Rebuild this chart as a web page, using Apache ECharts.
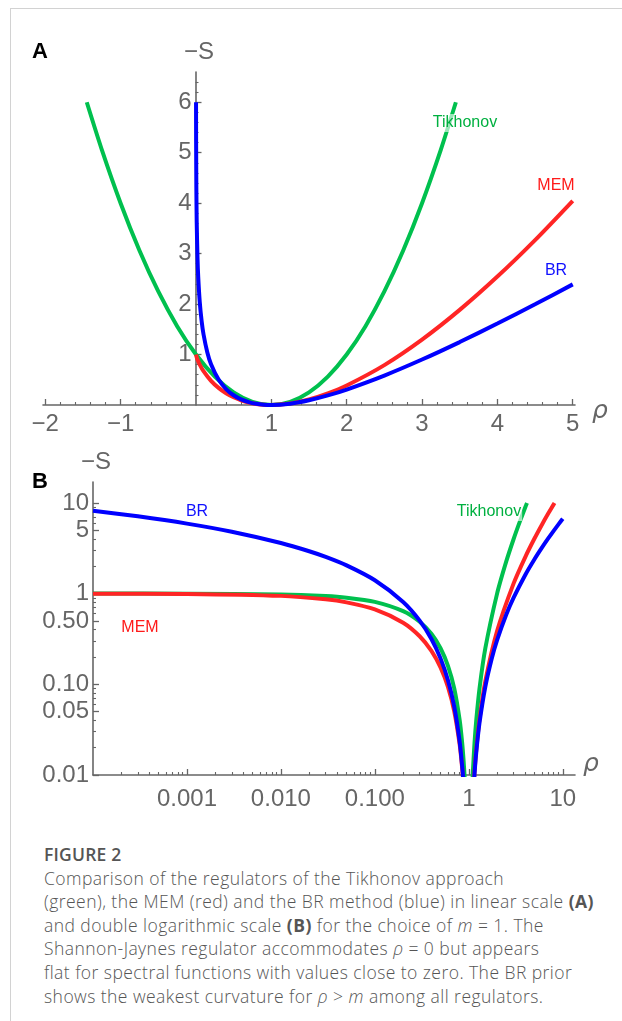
<!DOCTYPE html>
<html>
<head>
<meta charset="utf-8">
<script src="https://cdn.jsdelivr.net/npm/echarts@6/dist/echarts.min.js"></script>
<style>
html,body{margin:0;padding:0;background:#fff;}
#frame{position:absolute;left:10px;top:8px;width:612px;height:1013px;border-left:1px solid #d2d2d2;border-top:1px solid #d2d2d2;box-sizing:border-box;}
#chart{position:absolute;left:0;top:0;width:622px;height:830px;}
#caption{position:absolute;left:44px;top:843px;width:575px;font-family:'Open Sans',sans-serif;font-weight:300;color:#555;font-size:17.5px;letter-spacing:0.45px;line-height:23.6px;white-space:nowrap;}
#caption .fig{font-weight:600;font-size:17.5px;letter-spacing:0.2px;}
#caption b{font-weight:700;}
</style>
</head>
<body>
<div id="frame"></div>
<div id="chart"></div>
<div id="caption">
<div class="fig">FIGURE 2</div>
<div>Comparison of the regulators of the Tikhonov approach</div>
<div>(green), the MEM (red) and the BR method (blue) in linear scale <b>(A)</b></div>
<div>and double logarithmic scale <b>(B)</b> for the choice of <i>m</i> = 1. The</div>
<div>Shannon-Jaynes regulator accommodates <i>ρ</i> = 0 but appears</div>
<div>flat for spectral functions with values close to zero. The BR prior</div>
<div>shows the weakest curvature for <i>ρ</i> &gt; <i>m</i> among all regulators.</div>
</div>
<script>
// ---------- Panel A (linear scale): [rho, -S] ----------
const tikhonovLin = [[-1.449,6.0],[-1.25,5.0625],[-1.0,4.0],[-0.75,3.0625],[-0.5,2.25],[-0.25,1.5625],[0,1],[0.25,0.5625],[0.5,0.25],[0.75,0.0625],[1,0],[1.25,0.0625],[1.5,0.25],[1.75,0.5625],[2,1],[2.25,1.5625],[2.5,2.25],[2.75,3.0625],[3,4],[3.25,5.0625],[3.449,6.0]];
const memLin = [[0,1],[0.01,0.9439],[0.02,0.9018],[0.05,0.8002],[0.1,0.6697],[0.2,0.4781],[0.3,0.3388],[0.4,0.2335],[0.5,0.1534],[0.6,0.0935],[0.7,0.0503],[0.8,0.0215],[0.9,0.0052],[1,0],[1.25,0.0289],[1.5,0.1082],[1.75,0.2293],[2,0.3863],[2.5,0.7907],[3,1.2958],[3.5,1.8847],[4,2.5452],[4.5,3.2683],[5,4.0472]];
const brLin = [[0.00091,6.0],[0.002,5.2166],[0.005,4.3033],[0.01,3.6152],[0.02,2.932],[0.03,2.5366],[0.05,2.0457],[0.075,1.6653],[0.1,1.4026],[0.15,1.0471],[0.2,0.8094],[0.3,0.504],[0.4,0.3163],[0.5,0.1931],[0.6,0.1108],[0.7,0.0567],[0.8,0.0231],[0.9,0.0054],[1,0],[1.25,0.0269],[1.5,0.0945],[1.75,0.1904],[2,0.3069],[2.5,0.5837],[3,0.9014],[3.5,1.2472],[4,1.6137],[4.5,1.9959],[5,2.3906]];

// ---------- Panel B (double log scale): [rho, -S] ----------
const tikhonovLogL = [[0.0001,0.9998],[0.001,0.998],[0.01,0.9801],[0.03,0.9409],[0.05,0.9025],[0.1,0.81],[0.2,0.64],[0.3,0.49],[0.4,0.36],[0.5,0.25],[0.6,0.16],[0.7,0.09],[0.8,0.04],[0.85,0.0225],[0.88,0.0144],[0.9,0.01],[0.92,0.0064]];
const tikhonovLogR = [[1.08,0.0064],[1.1,0.01],[1.15,0.0225],[1.2,0.04],[1.3,0.09],[1.5,0.25],[2,1],[2.5,2.25],[3,4],[3.5,6.25],[4,9],[4.162,10.0]];
const memLogL = [[0.0001,0.999],[0.001,0.9921],[0.01,0.9439],[0.03,0.8648],[0.05,0.8002],[0.1,0.6697],[0.2,0.4781],[0.3,0.3388],[0.4,0.2335],[0.5,0.1534],[0.6,0.0935],[0.7,0.0503],[0.8,0.0215],[0.85,0.0119],[0.87,0.0088],[0.9,0.0052]];
const memLogR = [[1.1,0.0048],[1.15,0.0107],[1.2,0.0188],[1.3,0.0411],[1.5,0.1082],[2,0.3863],[3,1.2958],[4,2.5452],[5,4.0472],[6,5.7506],[7,7.6214],[8,9.6355],[8.17,10.0]];
const brLogL = [[0.0001,8.2104],[0.0003,7.112],[0.001,5.9088],[0.003,4.8121],[0.01,3.6152],[0.02,2.932],[0.03,2.5366],[0.05,2.0457],[0.1,1.4026],[0.2,0.8094],[0.3,0.504],[0.4,0.3163],[0.5,0.1931],[0.6,0.1108],[0.7,0.0567],[0.8,0.0231],[0.85,0.0125],[0.87,0.0093],[0.9,0.0054]];
const brLogR = [[1.1,0.0047],[1.15,0.0102],[1.2,0.0177],[1.3,0.0376],[1.5,0.0945],[1.75,0.1904],[2,0.3069],[2.5,0.5837],[3,0.9014],[4,1.6137],[5,2.3906],[6,3.2082],[7,4.0541],[8,4.9206],[9,5.8028],[10,6.6974]];

// ---------- Tick labels ----------
const xTicksA = [-2,-1,1,2,3,4,5];
const yTicksA = [1,2,3,4,5,6];
const xTicksB = [0.001,0.01,0.1,1,10];
const xTickLabelsB = ['0.001','0.010','0.100','1','10'];
const yTicksB = [0.01,0.05,0.1,0.5,1,5,10];
const yTickLabelsB = ['0.01','0.05','0.10','0.50','1','5','10'];

// minor tick positions
const xMinorA = []; for (let i = -10; i <= 25; i++) if (i % 5 !== 0) xMinorA.push(i / 5);
const yMinorA = []; for (let i = 1; i <= 32; i++) if (i % 5 !== 0) yMinorA.push(i / 5);
const xMinorB = []; for (let d = -4; d <= 1; d++) for (let k = 2; k <= 9; k++) xMinorB.push(k * Math.pow(10, d));
const yMinorB = []; for (let d = -2; d <= 1; d++) for (let k = 2; k <= 9; k++) if (k !== 5) yMinorB.push(k * Math.pow(10, d));

const C_TIK = '#00c04e', C_MEM = '#ff2525', C_BR = '#0000ff';
const AX = '#666666';
const TICKFONT = '"Liberation Sans",Arial,sans-serif';
const Y0_OFFSET = -152.5; // y axis of panel A sits at rho = 0

function labelOf(ticks, labels, v) {
  let best = 0, bd = Infinity;
  ticks.forEach((t, i) => { const d = Math.abs(Math.log10(t) - Math.log10(v)); if (d < bd) { bd = d; best = i; } });
  return labels[best];
}
const fmtA = v => v < 0 ? '\u2212' + Math.abs(v) : String(v);

const baseLine = {show:true, onZero:false, lineStyle:{color:AX, width:1.6}};
const majorTick = (vals) => ({show:true, inside:true, length:6, customValues:vals, lineStyle:{color:AX, width:1.3}});
const minorTickAx = (vals) => ({show:true, inside:true, length:3, customValues:vals, lineStyle:{color:AX, width:1.1}});

function line(data, color, xi, yi, z) {
  return {type:'line', data:data, xAxisIndex:xi, yAxisIndex:yi, showSymbol:false, symbol:'none', smooth:0.25,
    clip:true, z:z, lineStyle:{color:color, width:4}, silent:true};
}

const option = {
  animation:false,
  grid:[
    {left:43, width:532, top:72, height:333},
    {left:93, width:482, top:482, height:293}
  ],
  xAxis:[
    {gridIndex:0, type:'value', min:-2.03, max:5.03, position:'bottom',
      axisLine:baseLine, axisTick:majorTick(xTicksA), splitLine:{show:false},
      axisLabel:{customValues:xTicksA, formatter:fmtA, color:AX, fontSize:24, fontFamily:TICKFONT, margin:7}},
    {gridIndex:0, type:'value', min:-2.03, max:5.03, position:'bottom',
      axisLine:{show:false, onZero:false}, axisTick:minorTickAx(xMinorA), axisLabel:{show:false}, splitLine:{show:false}},
    {gridIndex:1, type:'log', logBase:10, min:0.0001, max:13.5, position:'bottom',
      axisLine:baseLine, axisTick:majorTick(xTicksB), splitLine:{show:false}, minorTick:{show:false},
      axisLabel:{customValues:xTicksB, formatter:v => labelOf(xTicksB, xTickLabelsB, v), color:AX, fontSize:24, fontFamily:TICKFONT, margin:12}},
    {gridIndex:1, type:'log', logBase:10, min:0.0001, max:13.5, position:'bottom',
      axisLine:{show:false, onZero:false}, axisTick:minorTickAx(xMinorB), axisLabel:{show:false}, splitLine:{show:false}}
  ],
  yAxis:[
    {gridIndex:0, type:'value', min:0, max:6.6, position:'left', offset:Y0_OFFSET,
      axisLine:baseLine, axisTick:majorTick(yTicksA), splitLine:{show:false},
      axisLabel:{customValues:yTicksA, color:AX, fontSize:24, fontFamily:TICKFONT, margin:4}},
    {gridIndex:0, type:'value', min:0, max:6.6, position:'left', offset:Y0_OFFSET,
      axisLine:{show:false, onZero:false}, axisTick:minorTickAx(yMinorA), axisLabel:{show:false}, splitLine:{show:false}},
    {gridIndex:1, type:'log', logBase:10, min:0.01, max:17, position:'left',
      axisLine:baseLine, axisTick:majorTick(yTicksB), splitLine:{show:false}, minorTick:{show:false},
      axisLabel:{customValues:yTicksB, formatter:v => labelOf(yTicksB, yTickLabelsB, v), color:AX, fontSize:24, fontFamily:TICKFONT, margin:4}},
    {gridIndex:1, type:'log', logBase:10, min:0.01, max:17, position:'left',
      axisLine:{show:false, onZero:false}, axisTick:minorTickAx(yMinorB), axisLabel:{show:false}, splitLine:{show:false}}
  ],
  series:[
    line(tikhonovLin, C_TIK, 0, 0, 3),
    line(memLin, C_MEM, 0, 0, 4),
    line(brLin, C_BR, 0, 0, 5),
    line(tikhonovLogL, C_TIK, 2, 2, 3),
    line(tikhonovLogR, C_TIK, 2, 2, 3),
    line(memLogL, C_MEM, 2, 2, 4),
    line(memLogR, C_MEM, 2, 2, 4),
    line(brLogL, C_BR, 2, 2, 5),
    line(brLogR, C_BR, 2, 2, 5)
  ],
  graphic:[
    {type:'text', x:40, y:52, z:100, style:{text:'A', fill:'#000', font:'bold 22px "Liberation Sans",Arial,sans-serif', align:'center', verticalAlign:'middle'}},
    {type:'text', x:199, y:52, z:100, style:{text:'\u2212S', fill:AX, font:'24px ' + TICKFONT, align:'center', verticalAlign:'middle'}},
    {type:'text', x:600, y:411, z:100, style:{text:'\u03c1', fill:AX, font:'italic 25px "DejaVu Sans",sans-serif', align:'center', verticalAlign:'middle'}},
    {type:'text', x:465, y:123, z:100, style:{text:'Tikhonov', fill:'#00b040', font:'16px "Liberation Sans",Arial,sans-serif', align:'center', verticalAlign:'middle', backgroundColor:'rgba(255,255,255,0.6)', padding:[1,1]}},
    {type:'text', x:556, y:186, z:100, style:{text:'MEM', fill:'#ff1a1a', font:'16px "Liberation Sans",Arial,sans-serif', align:'center', verticalAlign:'middle'}},
    {type:'text', x:556, y:271, z:100, style:{text:'BR', fill:'#1010ff', font:'16px "Liberation Sans",Arial,sans-serif', align:'center', verticalAlign:'middle'}},
    {type:'text', x:40, y:482, z:100, style:{text:'B', fill:'#000', font:'bold 22px "Liberation Sans",Arial,sans-serif', align:'center', verticalAlign:'middle'}},
    {type:'text', x:96, y:462, z:100, style:{text:'\u2212S', fill:AX, font:'24px ' + TICKFONT, align:'center', verticalAlign:'middle'}},
    {type:'text', x:591, y:764, z:100, style:{text:'\u03c1', fill:AX, font:'italic 25px "DejaVu Sans",sans-serif', align:'center', verticalAlign:'middle'}},
    {type:'text', x:197, y:512, z:100, style:{text:'BR', fill:'#1010ff', font:'16px "Liberation Sans",Arial,sans-serif', align:'center', verticalAlign:'middle', backgroundColor:'rgba(255,255,255,0.6)', padding:[1,2]}},
    {type:'text', x:140, y:628, z:100, style:{text:'MEM', fill:'#ff1a1a', font:'16px "Liberation Sans",Arial,sans-serif', align:'center', verticalAlign:'middle'}},
    {type:'text', x:489, y:512, z:100, style:{text:'Tikhonov', fill:'#00b040', font:'16px "Liberation Sans",Arial,sans-serif', align:'center', verticalAlign:'middle', backgroundColor:'rgba(255,255,255,0.6)', padding:[1,1]}}
  ]
};

const chart = echarts.init(document.getElementById('chart'), null, {renderer:'canvas'});
chart.setOption(option);
</script>
</body>
</html>
